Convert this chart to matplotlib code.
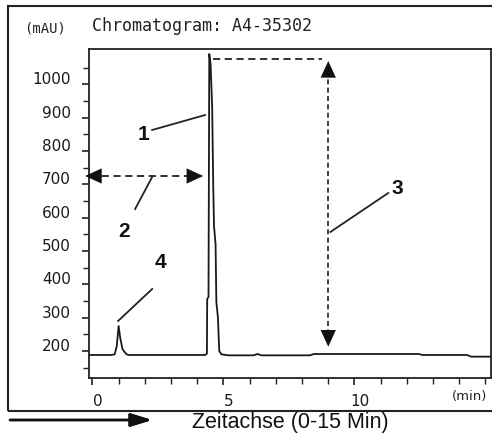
import matplotlib.pyplot as plt
import matplotlib.transforms as mtransforms
from matplotlib.patches import Rectangle

# Chromatogram trace (time in min, absorbance in mAU)
time_min = [-0.13, 0.70, 0.85, 0.93, 1.00, 1.06, 1.15, 1.30, 1.40, 2.50, 4.30,
            4.37, 4.38, 4.43, 4.46, 4.51, 4.57, 4.61, 4.64, 4.70, 4.73, 4.79,
            4.84, 4.92, 5.20, 6.15, 6.30, 6.45, 7.50, 8.30, 8.45, 10.50,
            12.45, 12.60, 14.30, 14.45, 15.21]
absorbance = [188, 188, 190, 215, 275, 240, 205, 190, 188, 188, 188,
              192, 356, 362, 1091, 1060, 930, 700, 575, 520, 347, 300,
              200, 190, 187, 187, 191, 187, 187, 187, 191, 191,
              191, 188, 188, 183, 183]

x_major = [0, 5, 10]
x_minor = list(range(0, 16))
y_major = [200, 300, 400, 500, 600, 700, 800, 900, 1000]
y_minor = list(range(150, 1051, 50))

# annotation positions (data units)
peak_top = (4.46, 1076)      # start of dashed line from the peak top
height_arrow = (9.0, 1070, 213)   # x, top, bottom of arrow 3
dead_arrow = (-0.28, 4.23, 725)   # left, right, level of arrow 2

fig = plt.figure(figsize=(4.92, 4.35), dpi=100)
ax = fig.add_axes([89 / 492, 1 - 379 / 435, 402 / 492, 329 / 435])

ax.plot(time_min, absorbance, color='#1a1a1a', lw=1.3)
ax.set_xlim(-0.13, 15.21)
ax.set_ylim(119, 1106)

ax.set_xticks(x_major)
ax.set_xticks(x_minor, minor=True)
ax.set_yticks(y_major)
ax.set_yticks(y_minor, minor=True)
ax.tick_params(which='both', direction='out', color='#222222',
               labelcolor='#1a1a1a', labelsize=11)
ax.tick_params(which='major', length=5, width=1.2)
ax.tick_params(which='minor', length=4, width=1.0)
ax.tick_params(axis='y', pad=8)
ax.tick_params(axis='x', pad=6)
for sp in ax.spines.values():
    sp.set_linewidth(1.3)
    sp.set_color('#222222')

# tick labels sit a little off their ticks in the original printout
up = mtransforms.ScaledTranslation(0, 7 / 100, fig.dpi_scale_trans)
right = mtransforms.ScaledTranslation(5.5 / 100, 0, fig.dpi_scale_trans)
for lab in ax.get_yticklabels():
    lab.set_transform(lab.get_transform() + up)
for lab in ax.get_xticklabels():
    lab.set_transform(lab.get_transform() + right)

ax.text(14.38, 65, '(min)', ha='center', va='center', fontsize=9.5,
        color='#222222', clip_on=False)


def arrow_head(tip, back):
    # solid filled head only, the shaft is drawn as a dashed line
    ax.annotate('', xy=tip, xytext=back, annotation_clip=False,
                arrowprops=dict(arrowstyle='-|>,head_length=1.2,head_width=0.55',
                                mutation_scale=10, lw=0, color='#111111',
                                shrinkA=0, shrinkB=0))


# dashed line from peak top and arrow 3 (peak height)
ax.plot([peak_top[0] + 0.15, height_arrow[0] - 0.25], [peak_top[1], peak_top[1]],
        color='#222222', lw=1.3, ls=(0, (4, 2.5)))
hx, htop, hbot = height_arrow
ax.plot([hx, hx], [htop - 30, hbot + 30], color='#222222', lw=1.2,
        ls=(0, (3, 2)))
arrow_head((hx, htop), (hx, htop - 150))
arrow_head((hx, hbot), (hx, hbot + 150))

# arrow 2 (retention time)
dl, dr, dy = dead_arrow
ax.plot([dl + 0.2, dr - 0.2], [dy, dy], color='#222222', lw=1.3,
        ls=(0, (4, 2.5)), clip_on=False)
arrow_head((dl, dy), (dl + 1.5, dy))
arrow_head((dr, dy), (dr - 1.5, dy))

# numbered labels with leader lines
labels = [('1', (1.94, 851), (2.28, 863), (4.30, 908)),
          ('2', (1.21, 560), (1.63, 626), (2.28, 722)),
          ('3', (11.63, 689), (11.29, 674), (9.08, 557)),
          ('4', (2.58, 467), (2.28, 386), (0.98, 290))]
for txt, pos, l0, l1 in labels:
    ax.text(pos[0], pos[1], txt, ha='center', va='center', fontsize=15,
            family='Liberation Sans', fontweight='bold', color='#111111')
    ax.plot([l0[0], l1[0]], [l0[1], l1[1]], color='#222222', lw=1.3)

# header texts
fig.text(45 / 492, 1 - 29 / 435, '(mAU)', ha='center', va='center',
         family='DejaVu Sans Mono', fontsize=10, color='#222222')
fig.text(92 / 492, 1 - 26 / 435, 'Chromatogram: A4-35302', ha='left',
         va='center', family='DejaVu Sans Mono', fontsize=12, color='#222222')

# outer frame of the printout
fig.patches.append(Rectangle((8 / 492, 1 - 412 / 435), 0.99, 405 / 435,
                             transform=fig.transFigure, fill=False,
                             lw=1.5, edgecolor='#222222'))

# time axis arrow and caption below the frame
fig.add_artist(plt.annotate('', xy=(152 / 492, 1 - 421 / 435),
                            xytext=(10 / 492, 1 - 421 / 435),
                            xycoords='figure fraction',
                            arrowprops=dict(arrowstyle='-|>,head_length=1.3,head_width=0.4',
                                            mutation_scale=10, lw=1.8,
                                            color='#111111', shrinkA=0, shrinkB=0)))
fig.text(290 / 492, 1 - 423 / 435, 'Zeitachse (0-15 Min)', ha='center',
         va='center', family='Liberation Sans', fontsize=15.5, color='#111111')

fig.savefig('out.png', dpi=100)
